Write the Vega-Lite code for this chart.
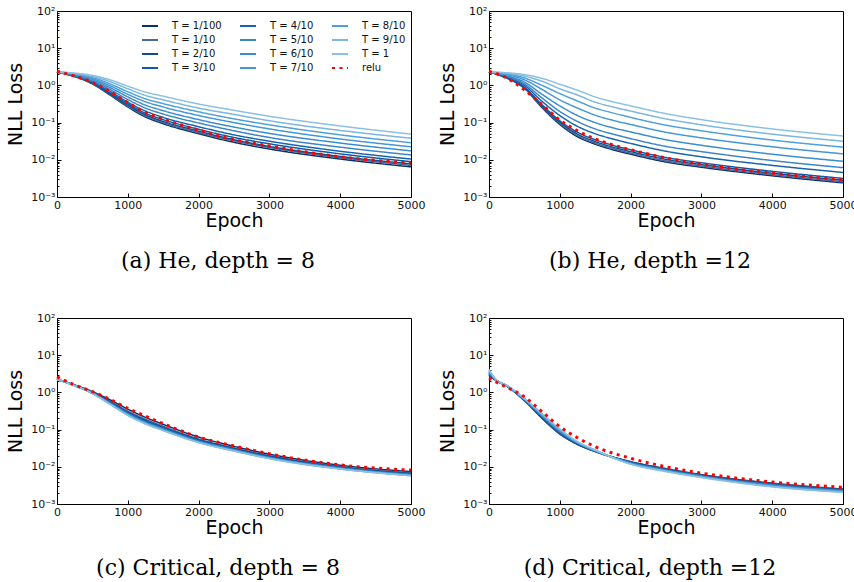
{
"$schema": "https://vega.github.io/schema/vega-lite/v6.json",
"autosize": {"type": "none"},
"padding": {"left": 57, "top": 11, "right": 797, "bottom": 571},
"background": "white",
"config": {
  "view": {"stroke": "#000", "strokeWidth": 1},
  "axis": {"grid": false, "domain": false, "tickColor": "#000", "tickWidth": 1, "labelFont": "DejaVu Sans", "labelFontSize": 11, "labelColor": "#111", "titleFont": "DejaVu Sans", "titleFontSize": 19, "titleFontWeight": "normal", "titleColor": "#000", "labelFlush": false},
  "title": {"font": "DejaVu Serif", "fontSize": 22, "fontWeight": "normal", "color": "#000"}
},
"columns": 2,
"spacing": {"row": 121, "column": 78},
"bounds": "flush",
"resolve": {"scale": {"color": "independent", "strokeDash": "independent"}},
"data": {"values": [
{"panel":"a","series":"T = 1/100","epoch":0,"log10loss":0.36},{"panel":"a","series":"T = 1/100","epoch":250,"log10loss":0.24},{"panel":"a","series":"T = 1/100","epoch":500,"log10loss":0.04},{"panel":"a","series":"T = 1/100","epoch":750,"log10loss":-0.26},{"panel":"a","series":"T = 1/100","epoch":1000,"log10loss":-0.58},{"panel":"a","series":"T = 1/100","epoch":1250,"log10loss":-0.85},{"panel":"a","series":"T = 1/100","epoch":1500,"log10loss":-1.03},{"panel":"a","series":"T = 1/100","epoch":2000,"log10loss":-1.30},{"panel":"a","series":"T = 1/100","epoch":2500,"log10loss":-1.53},{"panel":"a","series":"T = 1/100","epoch":3000,"log10loss":-1.71},{"panel":"a","series":"T = 1/100","epoch":4000,"log10loss":-1.98},{"panel":"a","series":"T = 1/100","epoch":5000,"log10loss":-2.19},
{"panel":"a","series":"T = 1/10","epoch":0,"log10loss":0.36},{"panel":"a","series":"T = 1/10","epoch":250,"log10loss":0.24},{"panel":"a","series":"T = 1/10","epoch":500,"log10loss":0.05},{"panel":"a","series":"T = 1/10","epoch":750,"log10loss":-0.24},{"panel":"a","series":"T = 1/10","epoch":1000,"log10loss":-0.56},{"panel":"a","series":"T = 1/10","epoch":1250,"log10loss":-0.82},{"panel":"a","series":"T = 1/10","epoch":1500,"log10loss":-1.00},{"panel":"a","series":"T = 1/10","epoch":2000,"log10loss":-1.27},{"panel":"a","series":"T = 1/10","epoch":2500,"log10loss":-1.49},{"panel":"a","series":"T = 1/10","epoch":3000,"log10loss":-1.67},{"panel":"a","series":"T = 1/10","epoch":4000,"log10loss":-1.94},{"panel":"a","series":"T = 1/10","epoch":5000,"log10loss":-2.15},
{"panel":"a","series":"T = 2/10","epoch":0,"log10loss":0.36},{"panel":"a","series":"T = 2/10","epoch":250,"log10loss":0.25},{"panel":"a","series":"T = 2/10","epoch":500,"log10loss":0.06},{"panel":"a","series":"T = 2/10","epoch":750,"log10loss":-0.23},{"panel":"a","series":"T = 2/10","epoch":1000,"log10loss":-0.53},{"panel":"a","series":"T = 2/10","epoch":1250,"log10loss":-0.79},{"panel":"a","series":"T = 2/10","epoch":1500,"log10loss":-0.97},{"panel":"a","series":"T = 2/10","epoch":2000,"log10loss":-1.23},{"panel":"a","series":"T = 2/10","epoch":2500,"log10loss":-1.46},{"panel":"a","series":"T = 2/10","epoch":3000,"log10loss":-1.64},{"panel":"a","series":"T = 2/10","epoch":4000,"log10loss":-1.91},{"panel":"a","series":"T = 2/10","epoch":5000,"log10loss":-2.11},
{"panel":"a","series":"T = 3/10","epoch":0,"log10loss":0.36},{"panel":"a","series":"T = 3/10","epoch":250,"log10loss":0.25},{"panel":"a","series":"T = 3/10","epoch":500,"log10loss":0.08},{"panel":"a","series":"T = 3/10","epoch":750,"log10loss":-0.20},{"panel":"a","series":"T = 3/10","epoch":1000,"log10loss":-0.49},{"panel":"a","series":"T = 3/10","epoch":1250,"log10loss":-0.75},{"panel":"a","series":"T = 3/10","epoch":1500,"log10loss":-0.92},{"panel":"a","series":"T = 3/10","epoch":2000,"log10loss":-1.18},{"panel":"a","series":"T = 3/10","epoch":2500,"log10loss":-1.40},{"panel":"a","series":"T = 3/10","epoch":3000,"log10loss":-1.57},{"panel":"a","series":"T = 3/10","epoch":4000,"log10loss":-1.84},{"panel":"a","series":"T = 3/10","epoch":5000,"log10loss":-2.05},
{"panel":"a","series":"T = 4/10","epoch":0,"log10loss":0.36},{"panel":"a","series":"T = 4/10","epoch":250,"log10loss":0.26},{"panel":"a","series":"T = 4/10","epoch":500,"log10loss":0.09},{"panel":"a","series":"T = 4/10","epoch":750,"log10loss":-0.16},{"panel":"a","series":"T = 4/10","epoch":1000,"log10loss":-0.45},{"panel":"a","series":"T = 4/10","epoch":1250,"log10loss":-0.69},{"panel":"a","series":"T = 4/10","epoch":1500,"log10loss":-0.86},{"panel":"a","series":"T = 4/10","epoch":2000,"log10loss":-1.11},{"panel":"a","series":"T = 4/10","epoch":2500,"log10loss":-1.33},{"panel":"a","series":"T = 4/10","epoch":3000,"log10loss":-1.50},{"panel":"a","series":"T = 4/10","epoch":4000,"log10loss":-1.77},{"panel":"a","series":"T = 4/10","epoch":5000,"log10loss":-1.98},
{"panel":"a","series":"T = 5/10","epoch":0,"log10loss":0.36},{"panel":"a","series":"T = 5/10","epoch":250,"log10loss":0.27},{"panel":"a","series":"T = 5/10","epoch":500,"log10loss":0.12},{"panel":"a","series":"T = 5/10","epoch":750,"log10loss":-0.11},{"panel":"a","series":"T = 5/10","epoch":1000,"log10loss":-0.38},{"panel":"a","series":"T = 5/10","epoch":1250,"log10loss":-0.61},{"panel":"a","series":"T = 5/10","epoch":1500,"log10loss":-0.77},{"panel":"a","series":"T = 5/10","epoch":2000,"log10loss":-1.01},{"panel":"a","series":"T = 5/10","epoch":2500,"log10loss":-1.22},{"panel":"a","series":"T = 5/10","epoch":3000,"log10loss":-1.40},{"panel":"a","series":"T = 5/10","epoch":4000,"log10loss":-1.66},{"panel":"a","series":"T = 5/10","epoch":5000,"log10loss":-1.87},
{"panel":"a","series":"T = 6/10","epoch":0,"log10loss":0.36},{"panel":"a","series":"T = 6/10","epoch":250,"log10loss":0.28},{"panel":"a","series":"T = 6/10","epoch":500,"log10loss":0.15},{"panel":"a","series":"T = 6/10","epoch":750,"log10loss":-0.06},{"panel":"a","series":"T = 6/10","epoch":1000,"log10loss":-0.31},{"panel":"a","series":"T = 6/10","epoch":1250,"log10loss":-0.53},{"panel":"a","series":"T = 6/10","epoch":1500,"log10loss":-0.68},{"panel":"a","series":"T = 6/10","epoch":2000,"log10loss":-0.92},{"panel":"a","series":"T = 6/10","epoch":2500,"log10loss":-1.12},{"panel":"a","series":"T = 6/10","epoch":3000,"log10loss":-1.29},{"panel":"a","series":"T = 6/10","epoch":4000,"log10loss":-1.55},{"panel":"a","series":"T = 6/10","epoch":5000,"log10loss":-1.76},
{"panel":"a","series":"T = 7/10","epoch":0,"log10loss":0.36},{"panel":"a","series":"T = 7/10","epoch":250,"log10loss":0.30},{"panel":"a","series":"T = 7/10","epoch":500,"log10loss":0.18},{"panel":"a","series":"T = 7/10","epoch":750,"log10loss":-0.01},{"panel":"a","series":"T = 7/10","epoch":1000,"log10loss":-0.24},{"panel":"a","series":"T = 7/10","epoch":1250,"log10loss":-0.44},{"panel":"a","series":"T = 7/10","epoch":1500,"log10loss":-0.58},{"panel":"a","series":"T = 7/10","epoch":2000,"log10loss":-0.81},{"panel":"a","series":"T = 7/10","epoch":2500,"log10loss":-1.00},{"panel":"a","series":"T = 7/10","epoch":3000,"log10loss":-1.17},{"panel":"a","series":"T = 7/10","epoch":4000,"log10loss":-1.44},{"panel":"a","series":"T = 7/10","epoch":5000,"log10loss":-1.65},
{"panel":"a","series":"T = 8/10","epoch":0,"log10loss":0.36},{"panel":"a","series":"T = 8/10","epoch":250,"log10loss":0.31},{"panel":"a","series":"T = 8/10","epoch":500,"log10loss":0.21},{"panel":"a","series":"T = 8/10","epoch":750,"log10loss":0.04},{"panel":"a","series":"T = 8/10","epoch":1000,"log10loss":-0.17},{"panel":"a","series":"T = 8/10","epoch":1250,"log10loss":-0.36},{"panel":"a","series":"T = 8/10","epoch":1500,"log10loss":-0.49},{"panel":"a","series":"T = 8/10","epoch":2000,"log10loss":-0.71},{"panel":"a","series":"T = 8/10","epoch":2500,"log10loss":-0.90},{"panel":"a","series":"T = 8/10","epoch":3000,"log10loss":-1.06},{"panel":"a","series":"T = 8/10","epoch":4000,"log10loss":-1.33},{"panel":"a","series":"T = 8/10","epoch":5000,"log10loss":-1.54},
{"panel":"a","series":"T = 9/10","epoch":0,"log10loss":0.36},{"panel":"a","series":"T = 9/10","epoch":250,"log10loss":0.32},{"panel":"a","series":"T = 9/10","epoch":500,"log10loss":0.24},{"panel":"a","series":"T = 9/10","epoch":750,"log10loss":0.10},{"panel":"a","series":"T = 9/10","epoch":1000,"log10loss":-0.09},{"panel":"a","series":"T = 9/10","epoch":1250,"log10loss":-0.27},{"panel":"a","series":"T = 9/10","epoch":1500,"log10loss":-0.39},{"panel":"a","series":"T = 9/10","epoch":2000,"log10loss":-0.61},{"panel":"a","series":"T = 9/10","epoch":2500,"log10loss":-0.78},{"panel":"a","series":"T = 9/10","epoch":3000,"log10loss":-0.95},{"panel":"a","series":"T = 9/10","epoch":4000,"log10loss":-1.21},{"panel":"a","series":"T = 9/10","epoch":5000,"log10loss":-1.42},
{"panel":"a","series":"T = 1","epoch":0,"log10loss":0.36},{"panel":"a","series":"T = 1","epoch":250,"log10loss":0.33},{"panel":"a","series":"T = 1","epoch":500,"log10loss":0.27},{"panel":"a","series":"T = 1","epoch":750,"log10loss":0.15},{"panel":"a","series":"T = 1","epoch":1000,"log10loss":-0.02},{"panel":"a","series":"T = 1","epoch":1250,"log10loss":-0.18},{"panel":"a","series":"T = 1","epoch":1500,"log10loss":-0.29},{"panel":"a","series":"T = 1","epoch":2000,"log10loss":-0.50},{"panel":"a","series":"T = 1","epoch":2500,"log10loss":-0.67},{"panel":"a","series":"T = 1","epoch":3000,"log10loss":-0.83},{"panel":"a","series":"T = 1","epoch":4000,"log10loss":-1.09},{"panel":"a","series":"T = 1","epoch":5000,"log10loss":-1.31},
{"panel":"a","series":"relu","epoch":0,"log10loss":0.38},{"panel":"a","series":"relu","epoch":250,"log10loss":0.25},{"panel":"a","series":"relu","epoch":500,"log10loss":0.08},{"panel":"a","series":"relu","epoch":750,"log10loss":-0.17},{"panel":"a","series":"relu","epoch":1000,"log10loss":-0.46},{"panel":"a","series":"relu","epoch":1250,"log10loss":-0.73},{"panel":"a","series":"relu","epoch":1500,"log10loss":-0.91},{"panel":"a","series":"relu","epoch":2000,"log10loss":-1.20},{"panel":"a","series":"relu","epoch":2500,"log10loss":-1.46},{"panel":"a","series":"relu","epoch":3000,"log10loss":-1.63},{"panel":"a","series":"relu","epoch":4000,"log10loss":-1.92},{"panel":"a","series":"relu","epoch":5000,"log10loss":-2.09},
{"panel":"b","series":"T = 1/100","epoch":0,"log10loss":0.36},{"panel":"b","series":"T = 1/100","epoch":250,"log10loss":0.20},{"panel":"b","series":"T = 1/100","epoch":500,"log10loss":-0.08},{"panel":"b","series":"T = 1/100","epoch":750,"log10loss":-0.60},{"panel":"b","series":"T = 1/100","epoch":1000,"log10loss":-1.05},{"panel":"b","series":"T = 1/100","epoch":1250,"log10loss":-1.38},{"panel":"b","series":"T = 1/100","epoch":1500,"log10loss":-1.58},{"panel":"b","series":"T = 1/100","epoch":1750,"log10loss":-1.73},{"panel":"b","series":"T = 1/100","epoch":2000,"log10loss":-1.85},{"panel":"b","series":"T = 1/100","epoch":2500,"log10loss":-2.06},{"panel":"b","series":"T = 1/100","epoch":3000,"log10loss":-2.20},{"panel":"b","series":"T = 1/100","epoch":4000,"log10loss":-2.43},{"panel":"b","series":"T = 1/100","epoch":5000,"log10loss":-2.62},
{"panel":"b","series":"T = 1/10","epoch":0,"log10loss":0.36},{"panel":"b","series":"T = 1/10","epoch":250,"log10loss":0.20},{"panel":"b","series":"T = 1/10","epoch":500,"log10loss":-0.07},{"panel":"b","series":"T = 1/10","epoch":750,"log10loss":-0.58},{"panel":"b","series":"T = 1/10","epoch":1000,"log10loss":-1.02},{"panel":"b","series":"T = 1/10","epoch":1250,"log10loss":-1.35},{"panel":"b","series":"T = 1/10","epoch":1500,"log10loss":-1.55},{"panel":"b","series":"T = 1/10","epoch":1750,"log10loss":-1.70},{"panel":"b","series":"T = 1/10","epoch":2000,"log10loss":-1.82},{"panel":"b","series":"T = 1/10","epoch":2500,"log10loss":-2.03},{"panel":"b","series":"T = 1/10","epoch":3000,"log10loss":-2.17},{"panel":"b","series":"T = 1/10","epoch":4000,"log10loss":-2.40},{"panel":"b","series":"T = 1/10","epoch":5000,"log10loss":-2.59},
{"panel":"b","series":"T = 2/10","epoch":0,"log10loss":0.36},{"panel":"b","series":"T = 2/10","epoch":250,"log10loss":0.21},{"panel":"b","series":"T = 2/10","epoch":500,"log10loss":-0.06},{"panel":"b","series":"T = 2/10","epoch":750,"log10loss":-0.56},{"panel":"b","series":"T = 2/10","epoch":1000,"log10loss":-0.99},{"panel":"b","series":"T = 2/10","epoch":1250,"log10loss":-1.31},{"panel":"b","series":"T = 2/10","epoch":1500,"log10loss":-1.51},{"panel":"b","series":"T = 2/10","epoch":1750,"log10loss":-1.66},{"panel":"b","series":"T = 2/10","epoch":2000,"log10loss":-1.78},{"panel":"b","series":"T = 2/10","epoch":2500,"log10loss":-1.99},{"panel":"b","series":"T = 2/10","epoch":3000,"log10loss":-2.13},{"panel":"b","series":"T = 2/10","epoch":4000,"log10loss":-2.36},{"panel":"b","series":"T = 2/10","epoch":5000,"log10loss":-2.55},
{"panel":"b","series":"T = 3/10","epoch":0,"log10loss":0.36},{"panel":"b","series":"T = 3/10","epoch":250,"log10loss":0.21},{"panel":"b","series":"T = 3/10","epoch":500,"log10loss":-0.05},{"panel":"b","series":"T = 3/10","epoch":750,"log10loss":-0.52},{"panel":"b","series":"T = 3/10","epoch":1000,"log10loss":-0.95},{"panel":"b","series":"T = 3/10","epoch":1250,"log10loss":-1.26},{"panel":"b","series":"T = 3/10","epoch":1500,"log10loss":-1.46},{"panel":"b","series":"T = 3/10","epoch":1750,"log10loss":-1.61},{"panel":"b","series":"T = 3/10","epoch":2000,"log10loss":-1.73},{"panel":"b","series":"T = 3/10","epoch":2500,"log10loss":-1.94},{"panel":"b","series":"T = 3/10","epoch":3000,"log10loss":-2.08},{"panel":"b","series":"T = 3/10","epoch":4000,"log10loss":-2.31},{"panel":"b","series":"T = 3/10","epoch":5000,"log10loss":-2.50},
{"panel":"b","series":"T = 4/10","epoch":0,"log10loss":0.36},{"panel":"b","series":"T = 4/10","epoch":250,"log10loss":0.23},{"panel":"b","series":"T = 4/10","epoch":500,"log10loss":0.00},{"panel":"b","series":"T = 4/10","epoch":750,"log10loss":-0.43},{"panel":"b","series":"T = 4/10","epoch":1000,"log10loss":-0.81},{"panel":"b","series":"T = 4/10","epoch":1250,"log10loss":-1.10},{"panel":"b","series":"T = 4/10","epoch":1500,"log10loss":-1.30},{"panel":"b","series":"T = 4/10","epoch":1750,"log10loss":-1.44},{"panel":"b","series":"T = 4/10","epoch":2000,"log10loss":-1.56},{"panel":"b","series":"T = 4/10","epoch":2500,"log10loss":-1.77},{"panel":"b","series":"T = 4/10","epoch":3000,"log10loss":-1.92},{"panel":"b","series":"T = 4/10","epoch":4000,"log10loss":-2.15},{"panel":"b","series":"T = 4/10","epoch":5000,"log10loss":-2.34},
{"panel":"b","series":"T = 5/10","epoch":0,"log10loss":0.36},{"panel":"b","series":"T = 5/10","epoch":250,"log10loss":0.25},{"panel":"b","series":"T = 5/10","epoch":500,"log10loss":0.04},{"panel":"b","series":"T = 5/10","epoch":750,"log10loss":-0.34},{"panel":"b","series":"T = 5/10","epoch":1000,"log10loss":-0.70},{"panel":"b","series":"T = 5/10","epoch":1250,"log10loss":-0.97},{"panel":"b","series":"T = 5/10","epoch":1500,"log10loss":-1.17},{"panel":"b","series":"T = 5/10","epoch":1750,"log10loss":-1.31},{"panel":"b","series":"T = 5/10","epoch":2000,"log10loss":-1.43},{"panel":"b","series":"T = 5/10","epoch":2500,"log10loss":-1.64},{"panel":"b","series":"T = 5/10","epoch":3000,"log10loss":-1.78},{"panel":"b","series":"T = 5/10","epoch":4000,"log10loss":-2.02},{"panel":"b","series":"T = 5/10","epoch":5000,"log10loss":-2.21},
{"panel":"b","series":"T = 6/10","epoch":0,"log10loss":0.36},{"panel":"b","series":"T = 6/10","epoch":250,"log10loss":0.26},{"panel":"b","series":"T = 6/10","epoch":500,"log10loss":0.09},{"panel":"b","series":"T = 6/10","epoch":750,"log10loss":-0.24},{"panel":"b","series":"T = 6/10","epoch":1000,"log10loss":-0.55},{"panel":"b","series":"T = 6/10","epoch":1250,"log10loss":-0.81},{"panel":"b","series":"T = 6/10","epoch":1500,"log10loss":-1.00},{"panel":"b","series":"T = 6/10","epoch":1750,"log10loss":-1.14},{"panel":"b","series":"T = 6/10","epoch":2000,"log10loss":-1.25},{"panel":"b","series":"T = 6/10","epoch":2500,"log10loss":-1.46},{"panel":"b","series":"T = 6/10","epoch":3000,"log10loss":-1.61},{"panel":"b","series":"T = 6/10","epoch":4000,"log10loss":-1.85},{"panel":"b","series":"T = 6/10","epoch":5000,"log10loss":-2.04},
{"panel":"b","series":"T = 7/10","epoch":0,"log10loss":0.36},{"panel":"b","series":"T = 7/10","epoch":250,"log10loss":0.29},{"panel":"b","series":"T = 7/10","epoch":500,"log10loss":0.15},{"panel":"b","series":"T = 7/10","epoch":750,"log10loss":-0.11},{"panel":"b","series":"T = 7/10","epoch":1000,"log10loss":-0.39},{"panel":"b","series":"T = 7/10","epoch":1250,"log10loss":-0.61},{"panel":"b","series":"T = 7/10","epoch":1500,"log10loss":-0.80},{"panel":"b","series":"T = 7/10","epoch":1750,"log10loss":-0.94},{"panel":"b","series":"T = 7/10","epoch":2000,"log10loss":-1.05},{"panel":"b","series":"T = 7/10","epoch":2500,"log10loss":-1.26},{"panel":"b","series":"T = 7/10","epoch":3000,"log10loss":-1.41},{"panel":"b","series":"T = 7/10","epoch":4000,"log10loss":-1.65},{"panel":"b","series":"T = 7/10","epoch":5000,"log10loss":-1.84},
{"panel":"b","series":"T = 8/10","epoch":0,"log10loss":0.36},{"panel":"b","series":"T = 8/10","epoch":250,"log10loss":0.31},{"panel":"b","series":"T = 8/10","epoch":500,"log10loss":0.20},{"panel":"b","series":"T = 8/10","epoch":750,"log10loss":0.00},{"panel":"b","series":"T = 8/10","epoch":1000,"log10loss":-0.22},{"panel":"b","series":"T = 8/10","epoch":1250,"log10loss":-0.42},{"panel":"b","series":"T = 8/10","epoch":1500,"log10loss":-0.61},{"panel":"b","series":"T = 8/10","epoch":1750,"log10loss":-0.74},{"panel":"b","series":"T = 8/10","epoch":2000,"log10loss":-0.86},{"panel":"b","series":"T = 8/10","epoch":2500,"log10loss":-1.07},{"panel":"b","series":"T = 8/10","epoch":3000,"log10loss":-1.22},{"panel":"b","series":"T = 8/10","epoch":4000,"log10loss":-1.47},{"panel":"b","series":"T = 8/10","epoch":5000,"log10loss":-1.66},
{"panel":"b","series":"T = 9/10","epoch":0,"log10loss":0.36},{"panel":"b","series":"T = 9/10","epoch":250,"log10loss":0.33},{"panel":"b","series":"T = 9/10","epoch":500,"log10loss":0.25},{"panel":"b","series":"T = 9/10","epoch":750,"log10loss":0.11},{"panel":"b","series":"T = 9/10","epoch":1000,"log10loss":-0.09},{"panel":"b","series":"T = 9/10","epoch":1250,"log10loss":-0.26},{"panel":"b","series":"T = 9/10","epoch":1500,"log10loss":-0.45},{"panel":"b","series":"T = 9/10","epoch":1750,"log10loss":-0.58},{"panel":"b","series":"T = 9/10","epoch":2000,"log10loss":-0.69},{"panel":"b","series":"T = 9/10","epoch":2500,"log10loss":-0.90},{"panel":"b","series":"T = 9/10","epoch":3000,"log10loss":-1.06},{"panel":"b","series":"T = 9/10","epoch":4000,"log10loss":-1.31},{"panel":"b","series":"T = 9/10","epoch":5000,"log10loss":-1.50},
{"panel":"b","series":"T = 1","epoch":0,"log10loss":0.36},{"panel":"b","series":"T = 1","epoch":250,"log10loss":0.34},{"panel":"b","series":"T = 1","epoch":500,"log10loss":0.29},{"panel":"b","series":"T = 1","epoch":750,"log10loss":0.19},{"panel":"b","series":"T = 1","epoch":1000,"log10loss":0.03},{"panel":"b","series":"T = 1","epoch":1250,"log10loss":-0.13},{"panel":"b","series":"T = 1","epoch":1500,"log10loss":-0.31},{"panel":"b","series":"T = 1","epoch":1750,"log10loss":-0.44},{"panel":"b","series":"T = 1","epoch":2000,"log10loss":-0.55},{"panel":"b","series":"T = 1","epoch":2500,"log10loss":-0.76},{"panel":"b","series":"T = 1","epoch":3000,"log10loss":-0.92},{"panel":"b","series":"T = 1","epoch":4000,"log10loss":-1.17},{"panel":"b","series":"T = 1","epoch":5000,"log10loss":-1.36},
{"panel":"b","series":"relu","epoch":0,"log10loss":0.38},{"panel":"b","series":"relu","epoch":250,"log10loss":0.20},{"panel":"b","series":"relu","epoch":500,"log10loss":-0.12},{"panel":"b","series":"relu","epoch":750,"log10loss":-0.52},{"panel":"b","series":"relu","epoch":1000,"log10loss":-0.93},{"panel":"b","series":"relu","epoch":1250,"log10loss":-1.22},{"panel":"b","series":"relu","epoch":1500,"log10loss":-1.44},{"panel":"b","series":"relu","epoch":1750,"log10loss":-1.60},{"panel":"b","series":"relu","epoch":2000,"log10loss":-1.73},{"panel":"b","series":"relu","epoch":2500,"log10loss":-1.95},{"panel":"b","series":"relu","epoch":3000,"log10loss":-2.12},{"panel":"b","series":"relu","epoch":4000,"log10loss":-2.36},{"panel":"b","series":"relu","epoch":5000,"log10loss":-2.54},
{"panel":"c","series":"T = 1/100","epoch":0,"log10loss":0.35},{"panel":"c","series":"T = 1/100","epoch":250,"log10loss":0.20},{"panel":"c","series":"T = 1/100","epoch":500,"log10loss":0.02},{"panel":"c","series":"T = 1/100","epoch":750,"log10loss":-0.20},{"panel":"c","series":"T = 1/100","epoch":1000,"log10loss":-0.45},{"panel":"c","series":"T = 1/100","epoch":1250,"log10loss":-0.67},{"panel":"c","series":"T = 1/100","epoch":1500,"log10loss":-0.86},{"panel":"c","series":"T = 1/100","epoch":2000,"log10loss":-1.20},{"panel":"c","series":"T = 1/100","epoch":2500,"log10loss":-1.45},{"panel":"c","series":"T = 1/100","epoch":3000,"log10loss":-1.66},{"panel":"c","series":"T = 1/100","epoch":4000,"log10loss":-1.96},{"panel":"c","series":"T = 1/100","epoch":5000,"log10loss":-2.13},
{"panel":"c","series":"T = 1/10","epoch":0,"log10loss":0.35},{"panel":"c","series":"T = 1/10","epoch":250,"log10loss":0.19},{"panel":"c","series":"T = 1/10","epoch":500,"log10loss":0.01},{"panel":"c","series":"T = 1/10","epoch":750,"log10loss":-0.24},{"panel":"c","series":"T = 1/10","epoch":1000,"log10loss":-0.50},{"panel":"c","series":"T = 1/10","epoch":1250,"log10loss":-0.72},{"panel":"c","series":"T = 1/10","epoch":1500,"log10loss":-0.91},{"panel":"c","series":"T = 1/10","epoch":2000,"log10loss":-1.25},{"panel":"c","series":"T = 1/10","epoch":2500,"log10loss":-1.49},{"panel":"c","series":"T = 1/10","epoch":3000,"log10loss":-1.70},{"panel":"c","series":"T = 1/10","epoch":4000,"log10loss":-1.99},{"panel":"c","series":"T = 1/10","epoch":5000,"log10loss":-2.16},
{"panel":"c","series":"T = 2/10","epoch":0,"log10loss":0.35},{"panel":"c","series":"T = 2/10","epoch":250,"log10loss":0.19},{"panel":"c","series":"T = 2/10","epoch":500,"log10loss":0.00},{"panel":"c","series":"T = 2/10","epoch":750,"log10loss":-0.25},{"panel":"c","series":"T = 2/10","epoch":1000,"log10loss":-0.53},{"panel":"c","series":"T = 2/10","epoch":1250,"log10loss":-0.75},{"panel":"c","series":"T = 2/10","epoch":1500,"log10loss":-0.94},{"panel":"c","series":"T = 2/10","epoch":2000,"log10loss":-1.27},{"panel":"c","series":"T = 2/10","epoch":2500,"log10loss":-1.51},{"panel":"c","series":"T = 2/10","epoch":3000,"log10loss":-1.71},{"panel":"c","series":"T = 2/10","epoch":4000,"log10loss":-2.01},{"panel":"c","series":"T = 2/10","epoch":5000,"log10loss":-2.18},
{"panel":"c","series":"T = 3/10","epoch":0,"log10loss":0.35},{"panel":"c","series":"T = 3/10","epoch":250,"log10loss":0.19},{"panel":"c","series":"T = 3/10","epoch":500,"log10loss":-0.01},{"panel":"c","series":"T = 3/10","epoch":750,"log10loss":-0.27},{"panel":"c","series":"T = 3/10","epoch":1000,"log10loss":-0.54},{"panel":"c","series":"T = 3/10","epoch":1250,"log10loss":-0.77},{"panel":"c","series":"T = 3/10","epoch":1500,"log10loss":-0.95},{"panel":"c","series":"T = 3/10","epoch":2000,"log10loss":-1.28},{"panel":"c","series":"T = 3/10","epoch":2500,"log10loss":-1.52},{"panel":"c","series":"T = 3/10","epoch":3000,"log10loss":-1.73},{"panel":"c","series":"T = 3/10","epoch":4000,"log10loss":-2.02},{"panel":"c","series":"T = 3/10","epoch":5000,"log10loss":-2.19},
{"panel":"c","series":"T = 4/10","epoch":0,"log10loss":0.35},{"panel":"c","series":"T = 4/10","epoch":250,"log10loss":0.19},{"panel":"c","series":"T = 4/10","epoch":500,"log10loss":-0.01},{"panel":"c","series":"T = 4/10","epoch":750,"log10loss":-0.28},{"panel":"c","series":"T = 4/10","epoch":1000,"log10loss":-0.56},{"panel":"c","series":"T = 4/10","epoch":1250,"log10loss":-0.79},{"panel":"c","series":"T = 4/10","epoch":1500,"log10loss":-0.97},{"panel":"c","series":"T = 4/10","epoch":2000,"log10loss":-1.30},{"panel":"c","series":"T = 4/10","epoch":2500,"log10loss":-1.54},{"panel":"c","series":"T = 4/10","epoch":3000,"log10loss":-1.74},{"panel":"c","series":"T = 4/10","epoch":4000,"log10loss":-2.03},{"panel":"c","series":"T = 4/10","epoch":5000,"log10loss":-2.20},
{"panel":"c","series":"T = 5/10","epoch":0,"log10loss":0.35},{"panel":"c","series":"T = 5/10","epoch":250,"log10loss":0.19},{"panel":"c","series":"T = 5/10","epoch":500,"log10loss":-0.02},{"panel":"c","series":"T = 5/10","epoch":750,"log10loss":-0.29},{"panel":"c","series":"T = 5/10","epoch":1000,"log10loss":-0.57},{"panel":"c","series":"T = 5/10","epoch":1250,"log10loss":-0.80},{"panel":"c","series":"T = 5/10","epoch":1500,"log10loss":-0.98},{"panel":"c","series":"T = 5/10","epoch":2000,"log10loss":-1.31},{"panel":"c","series":"T = 5/10","epoch":2500,"log10loss":-1.54},{"panel":"c","series":"T = 5/10","epoch":3000,"log10loss":-1.75},{"panel":"c","series":"T = 5/10","epoch":4000,"log10loss":-2.03},{"panel":"c","series":"T = 5/10","epoch":5000,"log10loss":-2.21},
{"panel":"c","series":"T = 6/10","epoch":0,"log10loss":0.35},{"panel":"c","series":"T = 6/10","epoch":250,"log10loss":0.18},{"panel":"c","series":"T = 6/10","epoch":500,"log10loss":-0.02},{"panel":"c","series":"T = 6/10","epoch":750,"log10loss":-0.30},{"panel":"c","series":"T = 6/10","epoch":1000,"log10loss":-0.59},{"panel":"c","series":"T = 6/10","epoch":1250,"log10loss":-0.81},{"panel":"c","series":"T = 6/10","epoch":1500,"log10loss":-1.00},{"panel":"c","series":"T = 6/10","epoch":2000,"log10loss":-1.32},{"panel":"c","series":"T = 6/10","epoch":2500,"log10loss":-1.55},{"panel":"c","series":"T = 6/10","epoch":3000,"log10loss":-1.76},{"panel":"c","series":"T = 6/10","epoch":4000,"log10loss":-2.04},{"panel":"c","series":"T = 6/10","epoch":5000,"log10loss":-2.22},
{"panel":"c","series":"T = 7/10","epoch":0,"log10loss":0.35},{"panel":"c","series":"T = 7/10","epoch":250,"log10loss":0.18},{"panel":"c","series":"T = 7/10","epoch":500,"log10loss":-0.02},{"panel":"c","series":"T = 7/10","epoch":750,"log10loss":-0.30},{"panel":"c","series":"T = 7/10","epoch":1000,"log10loss":-0.60},{"panel":"c","series":"T = 7/10","epoch":1250,"log10loss":-0.83},{"panel":"c","series":"T = 7/10","epoch":1500,"log10loss":-1.01},{"panel":"c","series":"T = 7/10","epoch":2000,"log10loss":-1.33},{"panel":"c","series":"T = 7/10","epoch":2500,"log10loss":-1.56},{"panel":"c","series":"T = 7/10","epoch":3000,"log10loss":-1.76},{"panel":"c","series":"T = 7/10","epoch":4000,"log10loss":-2.05},{"panel":"c","series":"T = 7/10","epoch":5000,"log10loss":-2.23},
{"panel":"c","series":"T = 8/10","epoch":0,"log10loss":0.35},{"panel":"c","series":"T = 8/10","epoch":250,"log10loss":0.18},{"panel":"c","series":"T = 8/10","epoch":500,"log10loss":-0.03},{"panel":"c","series":"T = 8/10","epoch":750,"log10loss":-0.31},{"panel":"c","series":"T = 8/10","epoch":1000,"log10loss":-0.60},{"panel":"c","series":"T = 8/10","epoch":1250,"log10loss":-0.83},{"panel":"c","series":"T = 8/10","epoch":1500,"log10loss":-1.01},{"panel":"c","series":"T = 8/10","epoch":2000,"log10loss":-1.34},{"panel":"c","series":"T = 8/10","epoch":2500,"log10loss":-1.57},{"panel":"c","series":"T = 8/10","epoch":3000,"log10loss":-1.77},{"panel":"c","series":"T = 8/10","epoch":4000,"log10loss":-2.05},{"panel":"c","series":"T = 8/10","epoch":5000,"log10loss":-2.23},
{"panel":"c","series":"T = 9/10","epoch":0,"log10loss":0.35},{"panel":"c","series":"T = 9/10","epoch":250,"log10loss":0.18},{"panel":"c","series":"T = 9/10","epoch":500,"log10loss":-0.03},{"panel":"c","series":"T = 9/10","epoch":750,"log10loss":-0.32},{"panel":"c","series":"T = 9/10","epoch":1000,"log10loss":-0.61},{"panel":"c","series":"T = 9/10","epoch":1250,"log10loss":-0.84},{"panel":"c","series":"T = 9/10","epoch":1500,"log10loss":-1.02},{"panel":"c","series":"T = 9/10","epoch":2000,"log10loss":-1.34},{"panel":"c","series":"T = 9/10","epoch":2500,"log10loss":-1.57},{"panel":"c","series":"T = 9/10","epoch":3000,"log10loss":-1.78},{"panel":"c","series":"T = 9/10","epoch":4000,"log10loss":-2.06},{"panel":"c","series":"T = 9/10","epoch":5000,"log10loss":-2.24},
{"panel":"c","series":"T = 1","epoch":0,"log10loss":0.35},{"panel":"c","series":"T = 1","epoch":250,"log10loss":0.18},{"panel":"c","series":"T = 1","epoch":500,"log10loss":-0.03},{"panel":"c","series":"T = 1","epoch":750,"log10loss":-0.32},{"panel":"c","series":"T = 1","epoch":1000,"log10loss":-0.62},{"panel":"c","series":"T = 1","epoch":1250,"log10loss":-0.85},{"panel":"c","series":"T = 1","epoch":1500,"log10loss":-1.03},{"panel":"c","series":"T = 1","epoch":2000,"log10loss":-1.35},{"panel":"c","series":"T = 1","epoch":2500,"log10loss":-1.58},{"panel":"c","series":"T = 1","epoch":3000,"log10loss":-1.78},{"panel":"c","series":"T = 1","epoch":4000,"log10loss":-2.06},{"panel":"c","series":"T = 1","epoch":5000,"log10loss":-2.24},
{"panel":"c","series":"relu","epoch":0,"log10loss":0.42},{"panel":"c","series":"relu","epoch":250,"log10loss":0.20},{"panel":"c","series":"relu","epoch":500,"log10loss":0.02},{"panel":"c","series":"relu","epoch":750,"log10loss":-0.19},{"panel":"c","series":"relu","epoch":1000,"log10loss":-0.43},{"panel":"c","series":"relu","epoch":1250,"log10loss":-0.64},{"panel":"c","series":"relu","epoch":1500,"log10loss":-0.84},{"panel":"c","series":"relu","epoch":2000,"log10loss":-1.20},{"panel":"c","series":"relu","epoch":2500,"log10loss":-1.44},{"panel":"c","series":"relu","epoch":3000,"log10loss":-1.65},{"panel":"c","series":"relu","epoch":4000,"log10loss":-1.95},{"panel":"c","series":"relu","epoch":5000,"log10loss":-2.09},
{"panel":"d","series":"T = 1/100","epoch":0,"log10loss":0.45},{"panel":"d","series":"T = 1/100","epoch":100,"log10loss":0.32},{"panel":"d","series":"T = 1/100","epoch":250,"log10loss":0.17},{"panel":"d","series":"T = 1/100","epoch":500,"log10loss":-0.22},{"panel":"d","series":"T = 1/100","epoch":750,"log10loss":-0.70},{"panel":"d","series":"T = 1/100","epoch":1000,"log10loss":-1.12},{"panel":"d","series":"T = 1/100","epoch":1250,"log10loss":-1.40},{"panel":"d","series":"T = 1/100","epoch":1500,"log10loss":-1.59},{"panel":"d","series":"T = 1/100","epoch":2000,"log10loss":-1.86},{"panel":"d","series":"T = 1/100","epoch":2500,"log10loss":-2.05},{"panel":"d","series":"T = 1/100","epoch":3000,"log10loss":-2.21},{"panel":"d","series":"T = 1/100","epoch":4000,"log10loss":-2.44},{"panel":"d","series":"T = 1/100","epoch":5000,"log10loss":-2.60},
{"panel":"d","series":"T = 1/10","epoch":0,"log10loss":0.47},{"panel":"d","series":"T = 1/10","epoch":100,"log10loss":0.32},{"panel":"d","series":"T = 1/10","epoch":250,"log10loss":0.17},{"panel":"d","series":"T = 1/10","epoch":500,"log10loss":-0.22},{"panel":"d","series":"T = 1/10","epoch":750,"log10loss":-0.69},{"panel":"d","series":"T = 1/10","epoch":1000,"log10loss":-1.11},{"panel":"d","series":"T = 1/10","epoch":1250,"log10loss":-1.39},{"panel":"d","series":"T = 1/10","epoch":1500,"log10loss":-1.59},{"panel":"d","series":"T = 1/10","epoch":2000,"log10loss":-1.87},{"panel":"d","series":"T = 1/10","epoch":2500,"log10loss":-2.06},{"panel":"d","series":"T = 1/10","epoch":3000,"log10loss":-2.22},{"panel":"d","series":"T = 1/10","epoch":4000,"log10loss":-2.45},{"panel":"d","series":"T = 1/10","epoch":5000,"log10loss":-2.61},
{"panel":"d","series":"T = 2/10","epoch":0,"log10loss":0.48},{"panel":"d","series":"T = 2/10","epoch":100,"log10loss":0.32},{"panel":"d","series":"T = 2/10","epoch":250,"log10loss":0.17},{"panel":"d","series":"T = 2/10","epoch":500,"log10loss":-0.21},{"panel":"d","series":"T = 2/10","epoch":750,"log10loss":-0.68},{"panel":"d","series":"T = 2/10","epoch":1000,"log10loss":-1.09},{"panel":"d","series":"T = 2/10","epoch":1250,"log10loss":-1.39},{"panel":"d","series":"T = 2/10","epoch":1500,"log10loss":-1.58},{"panel":"d","series":"T = 2/10","epoch":2000,"log10loss":-1.87},{"panel":"d","series":"T = 2/10","epoch":2500,"log10loss":-2.07},{"panel":"d","series":"T = 2/10","epoch":3000,"log10loss":-2.23},{"panel":"d","series":"T = 2/10","epoch":4000,"log10loss":-2.46},{"panel":"d","series":"T = 2/10","epoch":5000,"log10loss":-2.62},
{"panel":"d","series":"T = 3/10","epoch":0,"log10loss":0.50},{"panel":"d","series":"T = 3/10","epoch":100,"log10loss":0.33},{"panel":"d","series":"T = 3/10","epoch":250,"log10loss":0.18},{"panel":"d","series":"T = 3/10","epoch":500,"log10loss":-0.20},{"panel":"d","series":"T = 3/10","epoch":750,"log10loss":-0.66},{"panel":"d","series":"T = 3/10","epoch":1000,"log10loss":-1.08},{"panel":"d","series":"T = 3/10","epoch":1250,"log10loss":-1.38},{"panel":"d","series":"T = 3/10","epoch":1500,"log10loss":-1.58},{"panel":"d","series":"T = 3/10","epoch":2000,"log10loss":-1.88},{"panel":"d","series":"T = 3/10","epoch":2500,"log10loss":-2.07},{"panel":"d","series":"T = 3/10","epoch":3000,"log10loss":-2.23},{"panel":"d","series":"T = 3/10","epoch":4000,"log10loss":-2.47},{"panel":"d","series":"T = 3/10","epoch":5000,"log10loss":-2.63},
{"panel":"d","series":"T = 4/10","epoch":0,"log10loss":0.52},{"panel":"d","series":"T = 4/10","epoch":100,"log10loss":0.33},{"panel":"d","series":"T = 4/10","epoch":250,"log10loss":0.18},{"panel":"d","series":"T = 4/10","epoch":500,"log10loss":-0.20},{"panel":"d","series":"T = 4/10","epoch":750,"log10loss":-0.65},{"panel":"d","series":"T = 4/10","epoch":1000,"log10loss":-1.07},{"panel":"d","series":"T = 4/10","epoch":1250,"log10loss":-1.37},{"panel":"d","series":"T = 4/10","epoch":1500,"log10loss":-1.57},{"panel":"d","series":"T = 4/10","epoch":2000,"log10loss":-1.89},{"panel":"d","series":"T = 4/10","epoch":2500,"log10loss":-2.08},{"panel":"d","series":"T = 4/10","epoch":3000,"log10loss":-2.24},{"panel":"d","series":"T = 4/10","epoch":4000,"log10loss":-2.48},{"panel":"d","series":"T = 4/10","epoch":5000,"log10loss":-2.64},
{"panel":"d","series":"T = 5/10","epoch":0,"log10loss":0.53},{"panel":"d","series":"T = 5/10","epoch":100,"log10loss":0.33},{"panel":"d","series":"T = 5/10","epoch":250,"log10loss":0.18},{"panel":"d","series":"T = 5/10","epoch":500,"log10loss":-0.19},{"panel":"d","series":"T = 5/10","epoch":750,"log10loss":-0.64},{"panel":"d","series":"T = 5/10","epoch":1000,"log10loss":-1.05},{"panel":"d","series":"T = 5/10","epoch":1250,"log10loss":-1.36},{"panel":"d","series":"T = 5/10","epoch":1500,"log10loss":-1.57},{"panel":"d","series":"T = 5/10","epoch":2000,"log10loss":-1.89},{"panel":"d","series":"T = 5/10","epoch":2500,"log10loss":-2.09},{"panel":"d","series":"T = 5/10","epoch":3000,"log10loss":-2.25},{"panel":"d","series":"T = 5/10","epoch":4000,"log10loss":-2.49},{"panel":"d","series":"T = 5/10","epoch":5000,"log10loss":-2.64},
{"panel":"d","series":"T = 6/10","epoch":0,"log10loss":0.55},{"panel":"d","series":"T = 6/10","epoch":100,"log10loss":0.33},{"panel":"d","series":"T = 6/10","epoch":250,"log10loss":0.18},{"panel":"d","series":"T = 6/10","epoch":500,"log10loss":-0.18},{"panel":"d","series":"T = 6/10","epoch":750,"log10loss":-0.62},{"panel":"d","series":"T = 6/10","epoch":1000,"log10loss":-1.04},{"panel":"d","series":"T = 6/10","epoch":1250,"log10loss":-1.35},{"panel":"d","series":"T = 6/10","epoch":1500,"log10loss":-1.57},{"panel":"d","series":"T = 6/10","epoch":2000,"log10loss":-1.90},{"panel":"d","series":"T = 6/10","epoch":2500,"log10loss":-2.10},{"panel":"d","series":"T = 6/10","epoch":3000,"log10loss":-2.26},{"panel":"d","series":"T = 6/10","epoch":4000,"log10loss":-2.50},{"panel":"d","series":"T = 6/10","epoch":5000,"log10loss":-2.65},
{"panel":"d","series":"T = 7/10","epoch":0,"log10loss":0.57},{"panel":"d","series":"T = 7/10","epoch":100,"log10loss":0.33},{"panel":"d","series":"T = 7/10","epoch":250,"log10loss":0.18},{"panel":"d","series":"T = 7/10","epoch":500,"log10loss":-0.18},{"panel":"d","series":"T = 7/10","epoch":750,"log10loss":-0.61},{"panel":"d","series":"T = 7/10","epoch":1000,"log10loss":-1.02},{"panel":"d","series":"T = 7/10","epoch":1250,"log10loss":-1.34},{"panel":"d","series":"T = 7/10","epoch":1500,"log10loss":-1.56},{"panel":"d","series":"T = 7/10","epoch":2000,"log10loss":-1.91},{"panel":"d","series":"T = 7/10","epoch":2500,"log10loss":-2.11},{"panel":"d","series":"T = 7/10","epoch":3000,"log10loss":-2.27},{"panel":"d","series":"T = 7/10","epoch":4000,"log10loss":-2.51},{"panel":"d","series":"T = 7/10","epoch":5000,"log10loss":-2.66},
{"panel":"d","series":"T = 8/10","epoch":0,"log10loss":0.59},{"panel":"d","series":"T = 8/10","epoch":100,"log10loss":0.34},{"panel":"d","series":"T = 8/10","epoch":250,"log10loss":0.19},{"panel":"d","series":"T = 8/10","epoch":500,"log10loss":-0.17},{"panel":"d","series":"T = 8/10","epoch":750,"log10loss":-0.60},{"panel":"d","series":"T = 8/10","epoch":1000,"log10loss":-1.01},{"panel":"d","series":"T = 8/10","epoch":1250,"log10loss":-1.34},{"panel":"d","series":"T = 8/10","epoch":1500,"log10loss":-1.56},{"panel":"d","series":"T = 8/10","epoch":2000,"log10loss":-1.92},{"panel":"d","series":"T = 8/10","epoch":2500,"log10loss":-2.11},{"panel":"d","series":"T = 8/10","epoch":3000,"log10loss":-2.27},{"panel":"d","series":"T = 8/10","epoch":4000,"log10loss":-2.52},{"panel":"d","series":"T = 8/10","epoch":5000,"log10loss":-2.67},
{"panel":"d","series":"T = 9/10","epoch":0,"log10loss":0.60},{"panel":"d","series":"T = 9/10","epoch":100,"log10loss":0.34},{"panel":"d","series":"T = 9/10","epoch":250,"log10loss":0.19},{"panel":"d","series":"T = 9/10","epoch":500,"log10loss":-0.17},{"panel":"d","series":"T = 9/10","epoch":750,"log10loss":-0.58},{"panel":"d","series":"T = 9/10","epoch":1000,"log10loss":-0.99},{"panel":"d","series":"T = 9/10","epoch":1250,"log10loss":-1.33},{"panel":"d","series":"T = 9/10","epoch":1500,"log10loss":-1.55},{"panel":"d","series":"T = 9/10","epoch":2000,"log10loss":-1.92},{"panel":"d","series":"T = 9/10","epoch":2500,"log10loss":-2.12},{"panel":"d","series":"T = 9/10","epoch":3000,"log10loss":-2.28},{"panel":"d","series":"T = 9/10","epoch":4000,"log10loss":-2.53},{"panel":"d","series":"T = 9/10","epoch":5000,"log10loss":-2.68},
{"panel":"d","series":"T = 1","epoch":0,"log10loss":0.62},{"panel":"d","series":"T = 1","epoch":100,"log10loss":0.34},{"panel":"d","series":"T = 1","epoch":250,"log10loss":0.19},{"panel":"d","series":"T = 1","epoch":500,"log10loss":-0.16},{"panel":"d","series":"T = 1","epoch":750,"log10loss":-0.57},{"panel":"d","series":"T = 1","epoch":1000,"log10loss":-0.98},{"panel":"d","series":"T = 1","epoch":1250,"log10loss":-1.32},{"panel":"d","series":"T = 1","epoch":1500,"log10loss":-1.55},{"panel":"d","series":"T = 1","epoch":2000,"log10loss":-1.93},{"panel":"d","series":"T = 1","epoch":2500,"log10loss":-2.13},{"panel":"d","series":"T = 1","epoch":3000,"log10loss":-2.29},{"panel":"d","series":"T = 1","epoch":4000,"log10loss":-2.54},{"panel":"d","series":"T = 1","epoch":5000,"log10loss":-2.69},
{"panel":"d","series":"relu","epoch":0,"log10loss":0.39},{"panel":"d","series":"relu","epoch":100,"log10loss":0.28},{"panel":"d","series":"relu","epoch":250,"log10loss":0.14},{"panel":"d","series":"relu","epoch":500,"log10loss":-0.12},{"panel":"d","series":"relu","epoch":750,"log10loss":-0.52},{"panel":"d","series":"relu","epoch":1000,"log10loss":-0.92},{"panel":"d","series":"relu","epoch":1250,"log10loss":-1.22},{"panel":"d","series":"relu","epoch":1500,"log10loss":-1.46},{"panel":"d","series":"relu","epoch":2000,"log10loss":-1.77},{"panel":"d","series":"relu","epoch":2500,"log10loss":-2.00},{"panel":"d","series":"relu","epoch":3000,"log10loss":-2.17},{"panel":"d","series":"relu","epoch":4000,"log10loss":-2.41},{"panel":"d","series":"relu","epoch":5000,"log10loss":-2.55}
]},
"concat": [
{
 "width": 354, "height": 186,
 "title": {"text": "(a) He, depth = 8", "orient": "bottom", "frame": "group", "dx": -16, "offset": 21},
 "transform": [{"filter": "datum.panel == 'a'"}],
 "encoding": {
  "x": {"field": "epoch", "type": "quantitative", "scale": {"domain": [0, 5000], "nice": false, "zero": false}, "axis": {"title": "Epoch", "values": [0, 1000, 2000, 3000, 4000, 5000], "format": "d", "tickSize": -4, "labelPadding": 6, "titlePadding": 1}},
  "color": {"field": "series", "type": "nominal", "scale": {"domain": ["T = 1/100","T = 1/10","T = 2/10","T = 3/10","T = 4/10","T = 5/10","T = 6/10","T = 7/10","T = 8/10","T = 9/10","T = 1","relu"], "range": ["#08306b","#4a6a98","#144c8c","#0d5aa8","#1764ab","#3d85c4","#3a8dcc","#4596d4","#4f9fd8","#7ab6de","#8cc0e2","#ff0000"]}, "legend": {"title": null, "orient": "none", "legendX": 84, "legendY": 6, "columns": 3, "symbolType": "stroke", "symbolSize": 256, "symbolStrokeWidth": 2, "labelFont": "DejaVu Sans", "labelFontSize": 10, "labelColor": "#111", "labelOffset": 13, "columnPadding": 14, "rowPadding": 0, "padding": 0}},
  "strokeDash": {"field": "series", "type": "nominal", "scale": {"domain": ["T = 1/100","T = 1/10","T = 2/10","T = 3/10","T = 4/10","T = 5/10","T = 6/10","T = 7/10","T = 8/10","T = 9/10","T = 1","relu"], "range": [[1,0],[1,0],[1,0],[1,0],[1,0],[1,0],[1,0],[1,0],[1,0],[1,0],[1,0],[3,4.5]]}, "legend": {"title": null, "orient": "none", "legendX": 84, "legendY": 6, "columns": 3, "symbolType": "stroke", "symbolSize": 256, "symbolStrokeWidth": 2, "labelFont": "DejaVu Sans", "labelFontSize": 10, "labelColor": "#111", "labelOffset": 13, "columnPadding": 14, "rowPadding": 0, "padding": 0}}
 },
 "layer": [
  {"transform": [{"filter": "datum.series != 'relu'"}], "mark": {"type": "line", "interpolate": "monotone", "strokeWidth": 1.5}, "encoding": {"y": {"field": "log10loss", "type": "quantitative", "scale": {"domain": [-3, 2], "nice": false, "zero": false}, "axis": {"title": "NLL Loss", "orient": "left", "values": [-3, -2, -1, 0, 1, 2], "labelExpr": "datum.value > 1.5 ? '10²' : datum.value > 0.5 ? '10¹' : datum.value > -0.5 ? '10⁰' : datum.value > -1.5 ? '10⁻¹' : datum.value > -2.5 ? '10⁻²' : '10⁻³'", "tickSize": -4, "labelPadding": 6, "titlePadding": 5}}}},
  {"transform": [{"filter": "datum.series == 'relu'"}], "mark": {"type": "line", "interpolate": "monotone", "strokeWidth": 3}, "encoding": {"y": {"field": "log10loss", "type": "quantitative", "scale": {"domain": [-3, 2], "nice": false, "zero": false}, "axis": {"title": null, "orient": "left", "labels": false, "tickSize": -2, "values": [-2.699,-2.523,-2.398,-2.301,-2.222,-2.155,-2.097,-2.046,-1.699,-1.523,-1.398,-1.301,-1.222,-1.155,-1.097,-1.046,-0.699,-0.523,-0.398,-0.301,-0.222,-0.155,-0.097,-0.046,0.301,0.477,0.602,0.699,0.778,0.845,0.903,0.954,1.301,1.477,1.602,1.699,1.778,1.845,1.903,1.954]}}}}
 ],
 "resolve": {"axis": {"y": "independent"}}
},
{
 "width": 354, "height": 186,
 "title": {"text": "(b) He, depth =12", "orient": "bottom", "frame": "group", "dx": -16, "offset": 21},
 "transform": [{"filter": "datum.panel == 'b'"}],
 "encoding": {
  "x": {"field": "epoch", "type": "quantitative", "scale": {"domain": [0, 5000], "nice": false, "zero": false}, "axis": {"title": "Epoch", "values": [0, 1000, 2000, 3000, 4000, 5000], "format": "d", "tickSize": -4, "labelPadding": 6, "titlePadding": 1}},
  "color": {"field": "series", "type": "nominal", "scale": {"domain": ["T = 1/100","T = 1/10","T = 2/10","T = 3/10","T = 4/10","T = 5/10","T = 6/10","T = 7/10","T = 8/10","T = 9/10","T = 1","relu"], "range": ["#08306b","#4a6a98","#144c8c","#0d5aa8","#1764ab","#3d85c4","#3a8dcc","#4596d4","#4f9fd8","#7ab6de","#8cc0e2","#ff0000"]}, "legend": null},
  "strokeDash": {"field": "series", "type": "nominal", "scale": {"domain": ["T = 1/100","T = 1/10","T = 2/10","T = 3/10","T = 4/10","T = 5/10","T = 6/10","T = 7/10","T = 8/10","T = 9/10","T = 1","relu"], "range": [[1,0],[1,0],[1,0],[1,0],[1,0],[1,0],[1,0],[1,0],[1,0],[1,0],[1,0],[3,4.5]]}, "legend": null}
 },
 "layer": [
  {"transform": [{"filter": "datum.series != 'relu'"}], "mark": {"type": "line", "interpolate": "monotone", "strokeWidth": 1.5}, "encoding": {"y": {"field": "log10loss", "type": "quantitative", "scale": {"domain": [-3, 2], "nice": false, "zero": false}, "axis": {"title": "NLL Loss", "orient": "left", "values": [-3, -2, -1, 0, 1, 2], "labelExpr": "datum.value > 1.5 ? '10²' : datum.value > 0.5 ? '10¹' : datum.value > -0.5 ? '10⁰' : datum.value > -1.5 ? '10⁻¹' : datum.value > -2.5 ? '10⁻²' : '10⁻³'", "tickSize": -4, "labelPadding": 6, "titlePadding": 5}}}},
  {"transform": [{"filter": "datum.series == 'relu'"}], "mark": {"type": "line", "interpolate": "monotone", "strokeWidth": 3}, "encoding": {"y": {"field": "log10loss", "type": "quantitative", "scale": {"domain": [-3, 2], "nice": false, "zero": false}, "axis": {"title": null, "orient": "left", "labels": false, "tickSize": -2, "values": [-2.699,-2.523,-2.398,-2.301,-2.222,-2.155,-2.097,-2.046,-1.699,-1.523,-1.398,-1.301,-1.222,-1.155,-1.097,-1.046,-0.699,-0.523,-0.398,-0.301,-0.222,-0.155,-0.097,-0.046,0.301,0.477,0.602,0.699,0.778,0.845,0.903,0.954,1.301,1.477,1.602,1.699,1.778,1.845,1.903,1.954]}}}}
 ],
 "resolve": {"axis": {"y": "independent"}}
},
{
 "width": 354, "height": 186,
 "title": {"text": "(c) Critical, depth = 8", "orient": "bottom", "frame": "group", "dx": -16, "offset": 21},
 "transform": [{"filter": "datum.panel == 'c'"}],
 "encoding": {
  "x": {"field": "epoch", "type": "quantitative", "scale": {"domain": [0, 5000], "nice": false, "zero": false}, "axis": {"title": "Epoch", "values": [0, 1000, 2000, 3000, 4000, 5000], "format": "d", "tickSize": -4, "labelPadding": 6, "titlePadding": 1}},
  "color": {"field": "series", "type": "nominal", "scale": {"domain": ["T = 1/100","T = 1/10","T = 2/10","T = 3/10","T = 4/10","T = 5/10","T = 6/10","T = 7/10","T = 8/10","T = 9/10","T = 1","relu"], "range": ["#08306b","#4a6a98","#144c8c","#0d5aa8","#1764ab","#3d85c4","#3a8dcc","#4596d4","#4f9fd8","#7ab6de","#8cc0e2","#ff0000"]}, "legend": null},
  "strokeDash": {"field": "series", "type": "nominal", "scale": {"domain": ["T = 1/100","T = 1/10","T = 2/10","T = 3/10","T = 4/10","T = 5/10","T = 6/10","T = 7/10","T = 8/10","T = 9/10","T = 1","relu"], "range": [[1,0],[1,0],[1,0],[1,0],[1,0],[1,0],[1,0],[1,0],[1,0],[1,0],[1,0],[3,4.5]]}, "legend": null}
 },
 "layer": [
  {"transform": [{"filter": "datum.series != 'relu'"}], "mark": {"type": "line", "interpolate": "monotone", "strokeWidth": 1.5}, "encoding": {"y": {"field": "log10loss", "type": "quantitative", "scale": {"domain": [-3, 2], "nice": false, "zero": false}, "axis": {"title": "NLL Loss", "orient": "left", "values": [-3, -2, -1, 0, 1, 2], "labelExpr": "datum.value > 1.5 ? '10²' : datum.value > 0.5 ? '10¹' : datum.value > -0.5 ? '10⁰' : datum.value > -1.5 ? '10⁻¹' : datum.value > -2.5 ? '10⁻²' : '10⁻³'", "tickSize": -4, "labelPadding": 6, "titlePadding": 5}}}},
  {"transform": [{"filter": "datum.series == 'relu'"}], "mark": {"type": "line", "interpolate": "monotone", "strokeWidth": 3}, "encoding": {"y": {"field": "log10loss", "type": "quantitative", "scale": {"domain": [-3, 2], "nice": false, "zero": false}, "axis": {"title": null, "orient": "left", "labels": false, "tickSize": -2, "values": [-2.699,-2.523,-2.398,-2.301,-2.222,-2.155,-2.097,-2.046,-1.699,-1.523,-1.398,-1.301,-1.222,-1.155,-1.097,-1.046,-0.699,-0.523,-0.398,-0.301,-0.222,-0.155,-0.097,-0.046,0.301,0.477,0.602,0.699,0.778,0.845,0.903,0.954,1.301,1.477,1.602,1.699,1.778,1.845,1.903,1.954]}}}}
 ],
 "resolve": {"axis": {"y": "independent"}}
},
{
 "width": 354, "height": 186,
 "title": {"text": "(d) Critical, depth =12", "orient": "bottom", "frame": "group", "dx": -16, "offset": 21},
 "transform": [{"filter": "datum.panel == 'd'"}],
 "encoding": {
  "x": {"field": "epoch", "type": "quantitative", "scale": {"domain": [0, 5000], "nice": false, "zero": false}, "axis": {"title": "Epoch", "values": [0, 1000, 2000, 3000, 4000, 5000], "format": "d", "tickSize": -4, "labelPadding": 6, "titlePadding": 1}},
  "color": {"field": "series", "type": "nominal", "scale": {"domain": ["T = 1/100","T = 1/10","T = 2/10","T = 3/10","T = 4/10","T = 5/10","T = 6/10","T = 7/10","T = 8/10","T = 9/10","T = 1","relu"], "range": ["#08306b","#4a6a98","#144c8c","#0d5aa8","#1764ab","#3d85c4","#3a8dcc","#4596d4","#4f9fd8","#7ab6de","#8cc0e2","#ff0000"]}, "legend": null},
  "strokeDash": {"field": "series", "type": "nominal", "scale": {"domain": ["T = 1/100","T = 1/10","T = 2/10","T = 3/10","T = 4/10","T = 5/10","T = 6/10","T = 7/10","T = 8/10","T = 9/10","T = 1","relu"], "range": [[1,0],[1,0],[1,0],[1,0],[1,0],[1,0],[1,0],[1,0],[1,0],[1,0],[1,0],[3,4.5]]}, "legend": null}
 },
 "layer": [
  {"transform": [{"filter": "datum.series != 'relu'"}], "mark": {"type": "line", "interpolate": "monotone", "strokeWidth": 1.5}, "encoding": {"y": {"field": "log10loss", "type": "quantitative", "scale": {"domain": [-3, 2], "nice": false, "zero": false}, "axis": {"title": "NLL Loss", "orient": "left", "values": [-3, -2, -1, 0, 1, 2], "labelExpr": "datum.value > 1.5 ? '10²' : datum.value > 0.5 ? '10¹' : datum.value > -0.5 ? '10⁰' : datum.value > -1.5 ? '10⁻¹' : datum.value > -2.5 ? '10⁻²' : '10⁻³'", "tickSize": -4, "labelPadding": 6, "titlePadding": 5}}}},
  {"transform": [{"filter": "datum.series == 'relu'"}], "mark": {"type": "line", "interpolate": "monotone", "strokeWidth": 3}, "encoding": {"y": {"field": "log10loss", "type": "quantitative", "scale": {"domain": [-3, 2], "nice": false, "zero": false}, "axis": {"title": null, "orient": "left", "labels": false, "tickSize": -2, "values": [-2.699,-2.523,-2.398,-2.301,-2.222,-2.155,-2.097,-2.046,-1.699,-1.523,-1.398,-1.301,-1.222,-1.155,-1.097,-1.046,-0.699,-0.523,-0.398,-0.301,-0.222,-0.155,-0.097,-0.046,0.301,0.477,0.602,0.699,0.778,0.845,0.903,0.954,1.301,1.477,1.602,1.699,1.778,1.845,1.903,1.954]}}}}
 ],
 "resolve": {"axis": {"y": "independent"}}
}
]
}
